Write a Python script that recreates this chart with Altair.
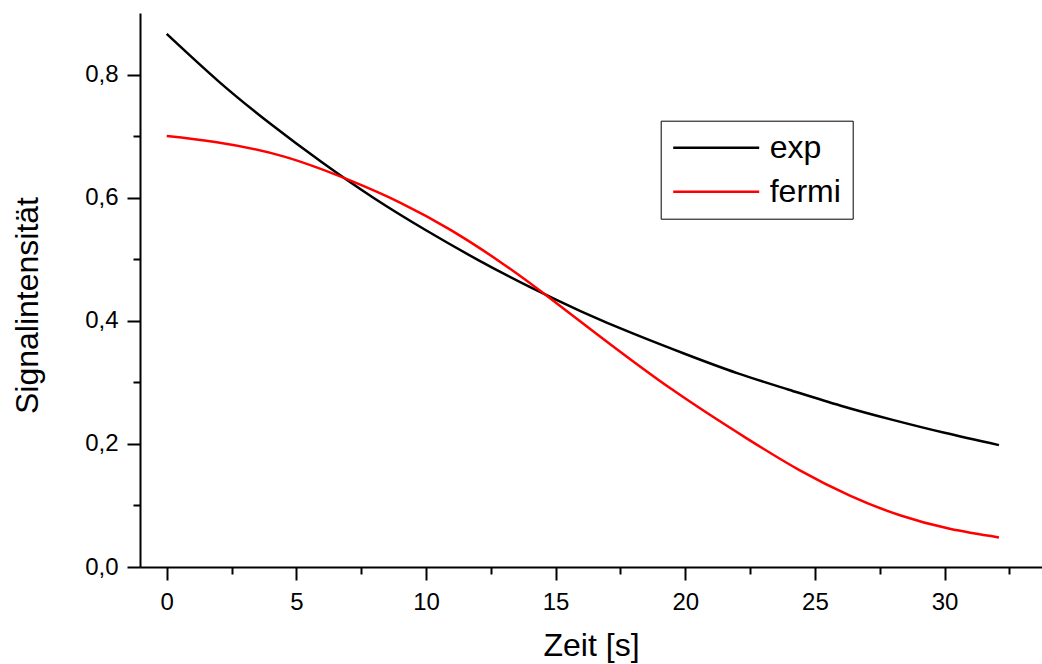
import altair as alt
import pandas as pd

exp_t = [0, 2, 4, 6, 8, 10, 12, 14, 16, 18, 20, 22, 24, 26, 28, 30, 32.1]
exp_v = [0.866, 0.789, 0.720, 0.657, 0.599, 0.547, 0.499, 0.455, 0.415, 0.379, 0.346,
         0.315, 0.288, 0.262, 0.239, 0.218, 0.198]

fermi_t = [0, 1.93, 4.5, 7.07, 9.0, 10.93, 12.85, 14.52, 16.7, 19.54, 22.37, 24.42, 26.35, 28.28, 30.2, 32.1]
fermi_v = [0.700, 0.690, 0.667, 0.628, 0.592, 0.548, 0.496, 0.445, 0.375, 0.287, 0.209, 0.157,
           0.116, 0.084, 0.062, 0.048]

series_names = ["exp", "fermi"]
series_colors = ["black", "red"]

x_ticks = [0, 2.5, 5, 7.5, 10, 12.5, 15, 17.5, 20, 22.5, 25, 27.5, 30, 32.5]
y_ticks = [0.0, 0.1, 0.2, 0.3, 0.4, 0.5, 0.6, 0.7, 0.8]

rows = []
for t, v in zip(exp_t, exp_v):
    rows.append({"t": t, "v": v, "series": "exp"})
for t, v in zip(fermi_t, fermi_v):
    rows.append({"t": t, "v": v, "series": "fermi"})
df = pd.DataFrame(rows)

FONT = "Liberation Sans"

x_axis = alt.Axis(
    values=x_ticks,
    labelExpr="datum.value % 5 === 0 ? format(datum.value, 'd') : ''",
    tickSize={"condition": {"test": "datum.value % 5 === 0", "value": 13}, "value": 7},
    tickWidth=2, tickColor="black", domainColor="black", domainWidth=2,
    labelFont=FONT, labelFontSize=24, labelColor="black", labelPadding=10,
    labelFlush=False, labelOverlap=False,
    title="Zeit [s]", titleFont=FONT, titleFontSize=32, titleFontWeight="normal",
    titleColor="black", titleBaseline="alphabetic", titleY=88, titleAlign="center",
    grid=False,
)
y_axis = alt.Axis(
    values=y_ticks,
    labelExpr="round(datum.value*10) % 2 === 0 ? replace(format(datum.value, '.1f'), '.', ',') : ''",
    tickSize={"condition": {"test": "round(datum.value*10) % 2 === 0", "value": 13}, "value": 7},
    tickWidth=2, tickColor="black", domainColor="black", domainWidth=2,
    labelFont=FONT, labelFontSize=24, labelColor="black", labelPadding=9,
    labelFlush=False, labelOverlap=False,
    title="Signalintensität", titleFont=FONT, titleFontSize=32, titleFontWeight="normal",
    titleColor="black", titleAngle=270, titleBaseline="alphabetic",
    titleX=-103, titleY=292, titleAlign="center",
    grid=False,
)

chart = alt.Chart(df).mark_line(strokeWidth=2.5, interpolate="natural", clip=True).encode(
    x=alt.X("t:Q", scale=alt.Scale(domain=[-1.03, 33.76], nice=False, zero=False), axis=x_axis),
    y=alt.Y("v:Q", scale=alt.Scale(domain=[0, 0.9], nice=False), axis=y_axis),
    color=alt.Color(
        "series:N",
        scale=alt.Scale(domain=series_names, range=series_colors),
        legend=alt.Legend(
            title=None, orient="none", legendX=520.7, legendY=107.7,
            symbolType="stroke", symbolSize=7396, symbolStrokeWidth=2.5,
            clipHeight=32,
            labelFont=FONT, labelFontSize=32, labelColor="black", labelOffset=9,
            strokeColor="black", padding=11, rowPadding=12,
        ),
    ),
).properties(
    width=902, height=554,
    padding={"left": 140, "top": 13, "right": 0, "bottom": 97},
    autosize=alt.AutoSizeParams(type="none"),
).configure(background="white").configure_view(stroke=None)

chart.save("out.html", embed_options={"renderer": "svg", "actions": False})
